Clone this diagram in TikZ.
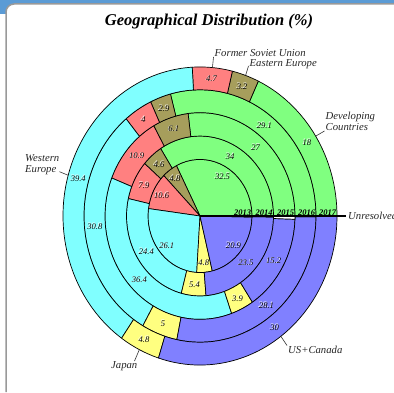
\documentclass[tikz,border=0pt]{standalone}
\usepackage{fontspec}
\setmainfont{Liberation Serif}
\usepackage{xcolor}
\usetikzlibrary{calc,positioning}
\definecolor{devgreen}{RGB}{128,255,128}
\definecolor{eeolive}{RGB}{166,158,92}
\definecolor{fsured}{RGB}{255,128,128}
\definecolor{wecyan}{RGB}{128,255,255}
\definecolor{japyellow}{RGB}{255,255,128}
\definecolor{usblue}{RGB}{128,128,255}
\definecolor{framebl}{RGB}{91,155,213}
\tikzset{
  slice/.style={draw=black,line width=0.7pt,line join=round},
  val/.style={font=\fontsize{8.5}{9}\selectfont\itshape,inner sep=0pt},
  yr/.style={font=\fontsize{8.5}{9}\selectfont\bfseries\itshape,anchor=south east,inner sep=0.6pt},
  lbl/.style={font=\fontsize{10.7}{11}\selectfont\itshape,text=black!85,inner sep=0pt,align=left},
  lead/.style={black!80,line width=0.6pt}
}
% white shadow behind a value
\newcommand{\emb}[1]{\makebox[0pt][l]{\hspace{-0.6pt}\raisebox{0.6pt}{\textcolor{white}{#1}}}#1}
% one ring: inner radius, outer radius, label radius, node prefix, list end/colour/text
\newcommand{\ring}[5]{%
  \foreach \e/\c/\t [count=\k, remember=\e as \s (initially 0)] in {#5}{
    \filldraw[slice,fill=\c] ({3.6*\s}:#1) -- ({3.6*\s}:#2)
      arc[start angle={3.6*\s},end angle={3.6*\e},radius=#2] -- ({3.6*\e}:#1)
      arc[start angle={3.6*\e},end angle={3.6*\s},radius=#1] -- cycle;
    \node[val] (#4\k) at ({1.8*(\s+\e)}:#3) {\emb{\t}};
  }}

\begin{document}
\begin{tikzpicture}[x=1pt,y=1pt]
\useasboundingbox (0,0) rectangle (394,392);
% frame
\fill[framebl] (0,392) -- (394,392) -- (394,388) -- (14,388) arc[start angle=90,end angle=180,radius=8] -- (6,378) -- (0,378) -- cycle;
\draw[gray!80,line width=1.5pt] (6,0) -- (6,380) arc[start angle=180,end angle=90,radius=8] -- (394,388);
\node[font=\fontsize{16.5}{18}\selectfont\bfseries\itshape] (title) at (209,370) {Geographical Distribution (\%)};
\begin{scope}[shift={(200,176)},yscale=1.088]
\coordinate (ctr) at (0,0);
% 2013
\ring{0}{52}{43}{a}{32.5/devgreen/32.5, 37.3/eeolive/4.8, 47.9/fsured/10.6, 74/wecyan/26.1, 78.8/japyellow/4.8, 99.7/usblue/20.9}
% 2014
\ring{52}{73.5}{62.75}{b}{34/devgreen/34, 38.6/eeolive/4.6, 46.5/fsured/7.9, 70.9/wecyan/24.4, 76.3/japyellow/5.4, 99.8/usblue/23.5}
% 2015
\ring{73.5}{95}{84.25}{c}{27/devgreen/27, 33.1/eeolive/6.1, 44/fsured/10.9, 80.4/wecyan/36.4, 84.3/japyellow/3.9, 99.5/usblue/15.2}
% 2016
\ring{95}{116}{105.5}{d}{29.1/devgreen/29.1, 32/eeolive/2.9, 36/fsured/4, 66.8/wecyan/30.8, 71.8/japyellow/5, 99.9/usblue/28.1}
% 2017
\ring{116}{137}{126.5}{e}{18/devgreen/18, 21.2/eeolive/3.2, 25.9/fsured/4.7, 65.3/wecyan/39.4, 70.1/japyellow/4.8, 100/usblue/30}
% unresolved
\foreach \ri/\ro/\e in {0/52/99.7, 52/73.5/99.8, 73.5/95/99.5, 95/116/99.9}
  \filldraw[slice,fill=white] ({3.6*\e}:\ri) -- ({3.6*\e}:\ro) arc[start angle={3.6*\e},end angle=360,radius=\ro] -- (0:\ri) arc[start angle=360,end angle={3.6*\e},radius=\ri] -- cycle;
\node[lbl,anchor=west,inner sep=2pt] (unres) at (146,0) {Unresolved};
\draw[line width=1.4pt] (ctr) -- (unres.west);
\foreach \r/\y in {52/2013,73.5/2014,95/2015,116/2016,137/2017}
  \node[yr] (y\y) at (\r,0) {\y};
\coordinate (fsuTip) at (84.78:137);
\coordinate (eeTip) at (70.56:137);
\coordinate (devTip) at (32.4:137);
\coordinate (weTip) at (164.16:137);
\coordinate (japTip) at (243.72:137);
\coordinate (usTip) at (306.18:137);
\end{scope}
% labels round the chart
\node[lbl,anchor=base west] (fsuLbl) at (214.5,335) {Former Soviet Union};
\node[lbl,anchor=base west] (eeLbl) at (249.5,326) {Eastern Europe};
\node[lbl,anchor=south west] (devLbl) at (325.5,261) {Developing\\Countries};
\node[lbl,anchor=north west] (weLbl) at (25,238) {Western\\Europe};
\node[lbl,anchor=north east] (japLbl) at (137.5,31) {Japan};
\node[lbl,anchor=north west] (usLbl) at (288,46.5) {US+Canada};
\draw[lead] (fsuTip) -- ([xshift=-1pt]fsuLbl.base west);
\draw[lead] (eeTip) -- ([xshift=-1pt]eeLbl.base west);
\draw[lead] (devTip) -- ([xshift=-1pt]devLbl.south west);
\draw[lead] (weTip) -- ([yshift=3pt]weLbl.south east);
\draw[lead] (japTip) -- ([xshift=-3pt]japLbl.north east);
\draw[lead] (usTip) -- ([xshift=-1pt]usLbl.north west);
\end{tikzpicture}
\end{document}
